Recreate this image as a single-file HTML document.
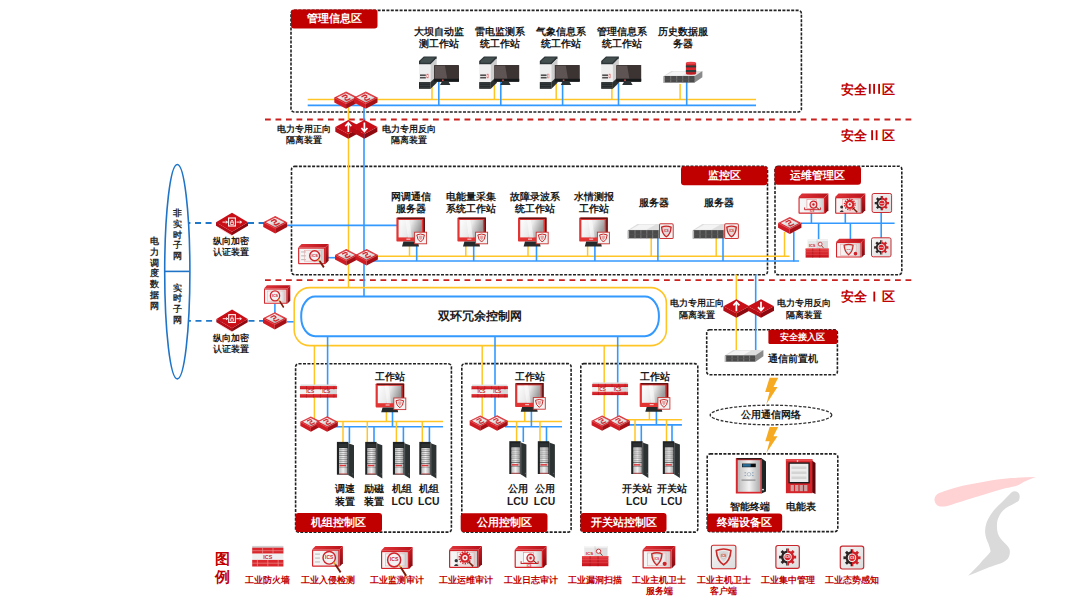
<!DOCTYPE html><html><head><meta charset="utf-8"><style>
html,body{margin:0;padding:0;background:#fff;width:1067px;height:608px;overflow:hidden}
svg{display:block;font-family:"Liberation Sans", sans-serif}
</style></head><body>
<svg width="1067" height="608" viewBox="0 0 1067 608">
<defs>
<linearGradient id="gScreen" x1="0" y1="0" x2="1" y2="0.3">
 <stop offset="0" stop-color="#ffffff"/><stop offset="0.55" stop-color="#e9e9e9"/><stop offset="1" stop-color="#9a9a9a"/>
</linearGradient>
<linearGradient id="gRedV" x1="0" y1="0" x2="0" y2="1">
 <stop offset="0" stop-color="#e8333a"/><stop offset="1" stop-color="#b01018"/>
</linearGradient>
<linearGradient id="gRedH" x1="0" y1="0" x2="1" y2="0">
 <stop offset="0" stop-color="#e02a30"/><stop offset="1" stop-color="#a80e16"/>
</linearGradient>
<linearGradient id="gGreyFace" x1="0" y1="0" x2="1" y2="1">
 <stop offset="0" stop-color="#fafafa"/><stop offset="1" stop-color="#cfcfcf"/>
</linearGradient>
<linearGradient id="gMetal" x1="0" y1="0" x2="1" y2="0">
 <stop offset="0" stop-color="#bdbdbd"/><stop offset="0.5" stop-color="#f2f2f2"/><stop offset="1" stop-color="#a9a9a9"/>
</linearGradient>

<!-- switch: 24 x 17.5 -->
<linearGradient id="gSwTop" x1="0" y1="0" x2="0.3" y2="1">
 <stop offset="0" stop-color="#f4f4f4"/><stop offset="0.6" stop-color="#e4e4e4"/><stop offset="1" stop-color="#b9b9b9"/>
</linearGradient>
<symbol id="sw" viewBox="0 0 24 17.5" overflow="visible">
 <path d="M0,6.2 L12,12.4 L12,17.5 L0,11.1 Z" fill="#cf1b23"/>
 <path d="M12,12.4 L24,6.2 L24,11.1 L12,17.5 Z" fill="#a50f16"/>
 <path d="M0,6.4 L12,12.6 L24,6.4" stroke="#e8585c" stroke-width="0.5" fill="none"/>
 <path d="M12,0 L24,6.2 L12,12.4 L0,6.2 Z" fill="#d8222a"/>
 <path d="M11.8,1.7 L21.2,6.4 L12,11.3 L2.7,6.2 Z" fill="url(#gSwTop)"/>
 <path d="M2.5,5.6 L11.8,0.9 L21.5,5.8" stroke="#f3b0b0" stroke-width="0.5" stroke-dasharray="0.8 0.6" fill="none"/>
 <path d="M7.6,5.4 L11.2,3.6 L13.4,4.6 M16.4,7.2 L12.8,9 L10.6,8 M10.4,7 L13.6,5.2" stroke="#d3262c" stroke-width="1.3" fill="none"/>
</symbol>

<!-- isolation devices 26 x 18.7 -->
<symbol id="isoUp" viewBox="0 0 26 18.7" overflow="visible">
 <path d="M0,7 L13,14 L13,18.7 L0,11.7 Z" fill="#b50d15"/>
 <path d="M13,14 L26,7 L26,11.7 L13,18.7 Z" fill="#8f0a10"/>
 <path d="M13,0 L26,7 L13,14 L0,7 Z" fill="#c80f17"/>
 <path d="M13,12 L13,3.2 M10,6.2 L13,2.8 L16,6.2" stroke="#fff" stroke-width="1.7" fill="none"/>
</symbol>
<symbol id="isoDn" viewBox="0 0 26 18.7" overflow="visible">
 <path d="M0,7 L13,14 L13,18.7 L0,11.7 Z" fill="#b50d15"/>
 <path d="M13,14 L26,7 L26,11.7 L13,18.7 Z" fill="#8f0a10"/>
 <path d="M13,0 L26,7 L13,14 L0,7 Z" fill="#c80f17"/>
 <path d="M13,2.5 L13,11 M10,8 L13,11.4 L16,8" stroke="#fff" stroke-width="1.7" fill="none"/>
</symbol>

<!-- encryption 32 x 22.5 -->
<symbol id="enc" viewBox="0 0 32 22.5" overflow="visible">
 <path d="M0,9.5 L16,19 L16,22.5 L0,13 Z" fill="#b50d15"/>
 <path d="M16,19 L32,9.5 L32,13 L16,22.5 Z" fill="#8f0a10"/>
 <path d="M16,0 L32,9.5 L16,19 L0,9.5 Z" fill="#c90e16"/>
 <path d="M3,15.3 L16,23 M16,22.8" stroke="#f3a0a0" stroke-width="0.4" fill="none"/>
 <rect x="12.6" y="5.2" width="6.8" height="8" fill="none" stroke="#fff" stroke-width="1.1"/>
 <path d="M15,9.5 L15,8 Q16,6.6 17,8 L17,9.5 M14.6,9.4 h2.8 v2.4 h-2.8z" stroke="#fff" stroke-width="0.8" fill="none"/>
 <path d="M6.5,9.3 L11.5,9.3 M9.8,8 L11.5,9.3 L9.8,10.6 M20.5,9.3 L25.5,9.3 M23.8,8 L25.5,9.3 L23.8,10.6" stroke="#fff" stroke-width="0.9" fill="none"/>
</symbol>

<!-- grey workstation 40 x 33 -->
<symbol id="pc" viewBox="0 0 40 33" overflow="visible">
 <path d="M0,4.6 L4.8,0.2 L17.7,0.2 L17.7,2 L11.6,8.2 L0,8.2 Z" fill="#2e3538"/>
 <path d="M1.5,4.6 L5.5,1.2 L16,1.2 L11,6.5 L1.5,6.5Z" fill="#44504f"/>
 <rect x="0" y="8.2" width="11.6" height="17.6" fill="#efefef"/>
 <path d="M11.6,8.2 L17.7,2 L17.7,26.5 L11.6,32.5 Z" fill="#cdcdcd"/>
 <path d="M11.6,25.8 L17.7,20 L17.7,26.5 L11.6,32.5 Z" fill="#2a2f30"/>
 <rect x="0" y="25.8" width="11.6" height="6.7" fill="#1f2425"/>
 <path d="M0.6,27.5 h10.4 M0.6,29.3 h10.4 M0.6,31 h10.4" stroke="#4b5354" stroke-width="0.6"/>
 <rect x="1" y="18.1" width="5.8" height="1.6" fill="#505050"/>
 <rect x="1" y="20.6" width="5.8" height="1.6" fill="#505050"/>
 <rect x="7.8" y="17.8" width="1.4" height="3.8" fill="none" stroke="#d66" stroke-width="0.5"/>
 <rect x="15" y="8.6" width="25" height="16.8" rx="0.6" fill="#3b3433"/>
 <path d="M15.8,9.4 L26,9.4 L28.2,22.5 L15.8,22.5 Z" fill="#5d5453"/>
 <rect x="15" y="22.5" width="25" height="2.9" fill="#15191a"/>
 <rect x="23" y="23.2" width="1.6" height="1.4" fill="#e05050"/>
 <path d="M22.8,25.4 L29.6,25.4 L31.4,28.6 L21,28.6 Z" fill="#2b3132"/>
</symbol>

<!-- red monitor with shield badge 30.5 x 29 -->
<symbol id="rmon" viewBox="0 0 30.5 29" overflow="visible">
 <rect x="0" y="0" width="28.6" height="24" rx="0.8" fill="#e33434"/>
 <path d="M1.2,0 L28.6,0 L28.6,24 L27,24 L27,1.5 L1.2,1.5Z" fill="#4a1212" opacity="0.85"/>
 <rect x="2.2" y="2.4" width="23.3" height="17.4" fill="url(#gScreen)"/>
 <path d="M9,2.4 L13,2.4 L15.5,19.8 L11.5,19.8Z" fill="#fff" opacity="0.5"/>
 <rect x="10" y="21" width="4" height="1.2" fill="#f4c0c0"/>
 <path d="M7,24 L21.5,24 L22.6,28.8 L5.6,28.8 Z" fill="#262a2b"/>
 <rect x="18.2" y="14.6" width="12" height="11.6" fill="#f3f3f3" stroke="#c93333" stroke-width="0.9"/>
 <path d="M20.4,17.3 Q24.2,15.6 28,17.3 Q27.6,22.4 24.2,24.4 Q20.8,22.4 20.4,17.3Z" fill="none" stroke="#c82a2a" stroke-width="1"/>
 <path d="M22.2,18.3 Q24.2,17.4 26.2,18.3 Q25.9,21.4 24.2,22.6 Q22.5,21.4 22.2,18.3Z" fill="#e6a5a5"/>
</symbol>

<!-- rack server with badge 47 x 16 -->
<symbol id="srv" viewBox="0 0 47 16" overflow="visible">
 <path d="M3,0.8 L33,0.8 L32.5,4.2 L0,4.2 Z" fill="#d9d9d9"/>
 <path d="M0,4.2 L32.5,4.2 L32.5,14.5 L0,14.5 Z" fill="#3c3c3c"/>
 <rect x="0" y="4.2" width="32.5" height="1.2" fill="#9c9c9c"/>
 <path d="M1,7.3 h31 M1,9.8 h31 M1,12.3 h31" stroke="#777" stroke-width="0.6"/>
 <path d="M6,5.5 v8.5 M12,5.5 v8.5 M18,5.5 v8.5 M24,5.5 v8.5" stroke="#222" stroke-width="0.5"/>
 <rect x="32.5" y="-0.6" width="14.2" height="15.6" rx="1" fill="#f3f3f3" stroke="#c83030" stroke-width="1"/>
 <path d="M35,2.8 Q39.6,0.8 44.2,2.8 Q43.8,9.5 39.6,12.2 Q35.4,9.5 35,2.8Z" fill="none" stroke="#c82a2a" stroke-width="1.1"/>
 <path d="M37,4 Q39.6,3 42.2,4 Q41.8,8 39.6,9.6 Q37.4,8 37,4Z" fill="#e7a7a7"/>
</symbol>

<!-- ICS firewall 37 x 13.2 -->
<linearGradient id="gBrick" x1="0" y1="0" x2="0" y2="1"><stop offset="0" stop-color="#e23a3e"/><stop offset="1" stop-color="#c8141c"/></linearGradient>
<symbol id="fw" viewBox="0 0 37 13.2" overflow="visible">
 <rect x="0.5" y="0" width="36" height="1.6" fill="#dcdcdc"/>
 <rect x="0" y="1.5" width="37" height="3.5" fill="url(#gBrick)"/>
 <rect x="0" y="5" width="37" height="4.5" fill="#f2f2f2"/>
 <rect x="28" y="5" width="9" height="4.5" fill="#d6d6d6"/>
 <rect x="0" y="9.6" width="37" height="3.5" fill="url(#gBrick)"/>
 <path d="M6.5,1.5 v3.5 M13.5,1.5 v3.5 M20.5,1.5 v3.5 M27.5,1.5 v3.5 M34,1.5 v3.5 M6.5,9.6 v3.5 M13.5,9.6 v3.5 M20.5,9.6 v3.5 M27.5,9.6 v3.5 M34,9.6 v3.5" stroke="#a80e14" stroke-width="0.5"/>
 <text x="10.2" y="8.9" font-size="4.8" font-weight="700" fill="#c42226" text-anchor="middle">ICS</text>
 <text x="26.2" y="8.9" font-size="4.8" font-weight="700" fill="#c42226" text-anchor="middle">ICS</text>
</symbol>

<!-- cabinet rack 18 x 36.6 -->
<linearGradient id="gShelf" x1="0" y1="0" x2="1" y2="0"><stop offset="0" stop-color="#bdbdbd"/><stop offset="0.5" stop-color="#f0f0f0"/><stop offset="1" stop-color="#a8a8a8"/></linearGradient>
<symbol id="rack" viewBox="0 0 18 36.6" overflow="visible">
 <rect x="0.6" y="0" width="11.4" height="32.8" fill="#202324"/>
 <path d="M12,1.3 L17.7,3.4 L17.7,36.7 L12,33 Z" fill="#2c3132"/>
 <path d="M12,1.3 L12.9,1.6 L12.9,33.4 L12,33Z" fill="#4d5354"/>
 <rect x="2.6" y="2" width="8.6" height="3.6" fill="#2e3233"/>
 <rect x="2.7" y="6.2" width="8.4" height="26.1" fill="#4a4a4a"/>
 <rect x="2.7" y="6.2" width="8.4" height="3.3" fill="url(#gShelf)"/>
 <rect x="2.7" y="9.9" width="8.4" height="3.6" fill="url(#gShelf)"/>
 <rect x="2.7" y="13.9" width="8.4" height="3.6" fill="url(#gShelf)"/>
 <rect x="2.7" y="17.8" width="8.4" height="3.3" fill="url(#gShelf)"/>
 <rect x="2.7" y="21.8" width="8.4" height="3.3" fill="url(#gShelf)"/>
 <rect x="3.2" y="22.9" width="6.5" height="1.5" fill="#d8383c"/>
 <rect x="2.7" y="25.4" width="8.4" height="6.9" fill="url(#gShelf)"/>
 <path d="M3,7.8 h8 M3,11.7 h8 M3,15.7 h8 M3,19.5 h8" stroke="#6a6a6a" stroke-width="0.5"/>
 <rect x="2.7" y="31.6" width="8.4" height="0.8" fill="#b83838"/>
 <circle cx="16.6" cy="32" r="0.45" fill="#aaa"/>
</symbol>

<!-- lightning -->
<symbol id="bolt" viewBox="0 0 13 26.2" overflow="visible">
 <path d="M4.4,0 L13,0 L8.3,9.3 L12.4,9.3 L1.2,26.2 L4.4,14.4 L0,14.4 Z" fill="#f5aa22"/>
</symbol>

<!-- 3D red audit box base: 32 x 21 -->
<linearGradient id="gSide" x1="0" y1="0" x2="0" y2="1">
 <stop offset="0" stop-color="#cf1a22"/><stop offset="1" stop-color="#7e0b10"/>
</linearGradient>
<linearGradient id="gTop" x1="0" y1="0" x2="1" y2="0">
 <stop offset="0" stop-color="#e0343a"/><stop offset="1" stop-color="#b8121a"/>
</linearGradient>
<linearGradient id="gFace" x1="0" y1="0" x2="1" y2="0">
 <stop offset="0" stop-color="#f7f7f7"/><stop offset="0.75" stop-color="#ececec"/><stop offset="1" stop-color="#c9c9c9"/>
</linearGradient>
<symbol id="abox" viewBox="0 0 32 21" overflow="visible">
 <path d="M0,3.6 L3.6,0 L32,0 L28.4,3.6 Z" fill="url(#gTop)"/>
 <path d="M28.4,3.6 L32,0 L32,17.4 L28.4,21 Z" fill="url(#gSide)"/>
 <rect x="0" y="3.6" width="28.4" height="17.4" rx="1" fill="#d42329"/>
 <rect x="1.2" y="4.9" width="26" height="14.9" fill="url(#gFace)"/>
</symbol>

<!-- gear icon 21 x 20.5 -->
<clipPath id="cL"><rect x="-9" y="-9" width="9" height="18"/></clipPath>
<clipPath id="cR"><rect x="0" y="-9" width="9" height="18"/></clipPath>
<linearGradient id="gGearBg" x1="0" y1="0" x2="1" y2="1"><stop offset="0" stop-color="#f6f6f6"/><stop offset="1" stop-color="#dcdcdc"/></linearGradient>
<symbol id="gear" viewBox="0 0 21 20.5" overflow="visible">
 <rect x="0.5" y="0.5" width="20" height="19.5" rx="1.8" fill="url(#gGearBg)" stroke="#c8262c" stroke-width="1"/>
 <g transform="translate(10.5,10.4)">
  <path d="M-1.15,-5.48 L-1.21,-7.30 L1.21,-7.30 L1.15,-5.48 L3.07,-4.69 L4.30,-6.02 L6.02,-4.30 L4.69,-3.07 L5.48,-1.15 L7.30,-1.21 L7.30,1.21 L5.48,1.15 L4.69,3.07 L6.02,4.30 L4.30,6.02 L3.07,4.69 L1.15,5.48 L1.21,7.30 L-1.21,7.30 L-1.15,5.48 L-3.07,4.69 L-4.30,6.02 L-6.02,4.30 L-4.69,3.07 L-5.48,1.15 L-7.30,1.21 L-7.30,-1.21 L-5.48,-1.15 L-4.69,-3.07 L-6.02,-4.30 L-4.30,-6.02 L-3.07,-4.69Z" fill="#2e2424" clip-path="url(#cL)"/>
  <path d="M-1.15,-5.48 L-1.21,-7.30 L1.21,-7.30 L1.15,-5.48 L3.07,-4.69 L4.30,-6.02 L6.02,-4.30 L4.69,-3.07 L5.48,-1.15 L7.30,-1.21 L7.30,1.21 L5.48,1.15 L4.69,3.07 L6.02,4.30 L4.30,6.02 L3.07,4.69 L1.15,5.48 L1.21,7.30 L-1.21,7.30 L-1.15,5.48 L-3.07,4.69 L-4.30,6.02 L-6.02,4.30 L-4.69,3.07 L-5.48,1.15 L-7.30,1.21 L-7.30,-1.21 L-5.48,-1.15 L-4.69,-3.07 L-6.02,-4.30 L-4.30,-6.02 L-3.07,-4.69Z" fill="#cf1f27" clip-path="url(#cR)"/>
  <circle r="3.6" fill="#f4f4f4"/>
  <circle r="2.7" fill="#d8262c"/>
  <text y="1" font-size="2.4" font-weight="700" fill="#fff" text-anchor="middle">ICS</text>
 </g>
</symbol>
</defs>

<path d="M934.5,499 C935.5,495 938,493.5 940.9,492.6 C946,490.5 951,488.6 957.1,487.2 C966,485 975,483.3 984.3,481.8 C993,480.2 1002,479 1011.4,478.1 C1020,477.4 1028,477.1 1036,477 C1031,478.8 1027,480.5 1024,481.8 C1021,484 1018,485.5 1015,486.3 C1010,487.5 1006,488 1002.4,489 C996,490.7 990,492.7 984.3,494.4 C978,496.4 972,498.2 966.2,499.9 C959,502 952,504.5 946.3,506.2 C942,507 938.5,506.5 937.2,505.3 C935.2,503.5 934.3,501 934.5,499 Z" fill="#ffd2d4"/>
<path d="M1011.4,492.6 C1013.5,490.6 1016.5,490.8 1018.5,493 C1020.2,495 1020,498.5 1018.7,500.8 C1015,503.5 1010,505.5 1006,508 C1002,511 1000,514 998.8,517 C997.5,519.5 997,522 997,524.3 C996.8,527.5 997,530.5 997.8,533.3 C999,537 1001.5,540 1004.2,542.4 C1006.5,545 1009,547 1009.6,549.6 C1010.3,552.5 1009.6,556 1007.8,558.7 C1005.5,561.5 1002,563 998.8,564.1 C994.5,565.6 990,567 986.1,568.6 C979.5,571.2 973,574 968,575.8 C973,570.5 979,565.5 982.5,560.5 C985.5,557.5 988.5,554.5 990.6,551.4 C990,548 989,545 987.9,542.4 C986.5,539.5 985.5,536.5 985.2,533.3 C984.9,530 985.3,527 986.1,524.3 C987,520.5 989,517 991.5,513.4 C994.5,509 998.5,505 1002.4,501.7 C1005.5,498.8 1008.5,495.5 1011.4,492.6 Z" fill="#dadada"/>
<line x1="265" y1="119.5" x2="912" y2="119.5" stroke="#c9211e" stroke-width="1.8" stroke-dasharray="5.8 4.7"/>
<line x1="265" y1="280.1" x2="912" y2="280.1" stroke="#c9211e" stroke-width="1.8" stroke-dasharray="5.8 4.7"/>
<text x="841.2" y="93.5" font-size="12.7" fill="#c00000" font-weight="700">安全</text>
<text x="881.9" y="93.5" font-size="12.7" fill="#c00000" font-weight="700">区</text>
<rect x="868.9" y="83.9" width="1.8" height="9.9" fill="#c00000"/>
<rect x="873.2" y="83.9" width="1.8" height="9.9" fill="#c00000"/>
<rect x="878.2" y="83.9" width="1.8" height="9.9" fill="#c00000"/>
<text x="841.2" y="139.79999999999998" font-size="12.7" fill="#c00000" font-weight="700">安全</text>
<text x="881.9" y="139.79999999999998" font-size="12.7" fill="#c00000" font-weight="700">区</text>
<rect x="871.2" y="130.2" width="1.8" height="9.9" fill="#c00000"/>
<rect x="875.7" y="130.2" width="1.8" height="9.9" fill="#c00000"/>
<text x="841.2" y="301.20000000000005" font-size="12.7" fill="#c00000" font-weight="700">安全</text>
<text x="881.9" y="301.20000000000005" font-size="12.7" fill="#c00000" font-weight="700">区</text>
<rect x="873.4" y="291.6" width="1.8" height="9.9" fill="#c00000"/>
<rect x="291" y="10.4" width="510.4" height="101.6" rx="3" fill="none" stroke="#222" stroke-width="1.6" stroke-dasharray="3 1.4"/>
<rect x="291.5" y="166.4" width="476.0" height="108.29999999999998" rx="3" fill="none" stroke="#222" stroke-width="1.6" stroke-dasharray="3 1.4"/>
<rect x="775" y="166.2" width="126.79999999999995" height="108.5" rx="3" fill="none" stroke="#222" stroke-width="1.6" stroke-dasharray="3 1.4"/>
<rect x="295.6" y="363.8" width="155.79999999999995" height="168.3" rx="3" fill="none" stroke="#222" stroke-width="1.6" stroke-dasharray="3 1.4"/>
<rect x="461.8" y="363.6" width="109.30000000000001" height="168.5" rx="3" fill="none" stroke="#222" stroke-width="1.6" stroke-dasharray="3 1.4"/>
<rect x="580.8" y="363.6" width="117.0" height="168.5" rx="3" fill="none" stroke="#222" stroke-width="1.6" stroke-dasharray="3 1.4"/>
<rect x="706.7" y="329.7" width="130.69999999999993" height="45.0" rx="3" fill="none" stroke="#222" stroke-width="1.6" stroke-dasharray="3 1.4"/>
<rect x="707.2" y="453.9" width="130.5999999999999" height="77.70000000000005" rx="3" fill="none" stroke="#222" stroke-width="1.6" stroke-dasharray="3 1.4"/>
<rect x="291" y="9.5" width="86.5" height="19.1" rx="3" fill="#c00000"/>
<text x="334.25" y="22.35" font-size="10.55" fill="#fff" font-weight="700" text-anchor="middle">管理信息区</text>
<rect x="681" y="166.3" width="86.29999999999995" height="19.0" rx="3" fill="#c00000"/>
<text x="724.15" y="179.10" font-size="10.55" fill="#fff" font-weight="700" text-anchor="middle">监控区</text>
<rect x="774.6" y="166.2" width="86.39999999999998" height="18.5" rx="3" fill="#c00000"/>
<text x="817.8" y="178.75" font-size="10.55" fill="#fff" font-weight="700" text-anchor="middle">运维管理区</text>
<rect x="295.5" y="513" width="86.5" height="19" rx="3" fill="#c00000"/>
<text x="338.75" y="525.80" font-size="10.55" fill="#fff" font-weight="700" text-anchor="middle">机组控制区</text>
<rect x="460.7" y="513.2" width="86.80000000000001" height="18.799999999999955" rx="3" fill="#c00000"/>
<text x="504.1" y="525.90" font-size="10.55" fill="#fff" font-weight="700" text-anchor="middle">公用控制区</text>
<rect x="580.5" y="513" width="86.0" height="19" rx="3" fill="#c00000"/>
<text x="623.5" y="525.80" font-size="10.55" fill="#fff" font-weight="700" text-anchor="middle">开关站控制区</text>
<rect x="768.4" y="329.7" width="68.80000000000007" height="14.300000000000011" rx="1.5" fill="#c00000"/>
<text x="802.8" y="339.52" font-size="8.8" fill="#fff" font-weight="700" text-anchor="middle">安全接入区</text>
<rect x="707.1" y="513.4" width="75.10000000000002" height="18.300000000000068" rx="3" fill="#c00000"/>
<text x="744.6500000000001" y="525.85" font-size="10.55" fill="#fff" font-weight="700" text-anchor="middle">终端设备区</text>
<line x1="307.7" y1="99.4" x2="756" y2="99.4" stroke="#ffc526" stroke-width="1.5"/>
<line x1="307.7" y1="105.4" x2="756" y2="105.4" stroke="#3399ff" stroke-width="1.6"/>
<line x1="432" y1="84" x2="432" y2="99.4" stroke="#ffc526" stroke-width="1.5"/>
<line x1="494.4" y1="84" x2="494.4" y2="99.4" stroke="#ffc526" stroke-width="1.5"/>
<line x1="556.2" y1="84" x2="556.2" y2="99.4" stroke="#ffc526" stroke-width="1.5"/>
<line x1="611.9" y1="84" x2="611.9" y2="99.4" stroke="#ffc526" stroke-width="1.5"/>
<line x1="680.1" y1="84" x2="680.1" y2="99.4" stroke="#ffc526" stroke-width="1.5"/>
<line x1="438.8" y1="80" x2="438.8" y2="105.4" stroke="#3399ff" stroke-width="1.6"/>
<line x1="500.8" y1="80" x2="500.8" y2="105.4" stroke="#3399ff" stroke-width="1.6"/>
<line x1="562.6" y1="80" x2="562.6" y2="105.4" stroke="#3399ff" stroke-width="1.6"/>
<line x1="618.5" y1="80" x2="618.5" y2="105.4" stroke="#3399ff" stroke-width="1.6"/>
<line x1="686.7" y1="80" x2="686.7" y2="105.4" stroke="#3399ff" stroke-width="1.6"/>
<line x1="348.5" y1="99.4" x2="348.5" y2="287.5" stroke="#ffc526" stroke-width="1.5"/>
<line x1="364" y1="105.4" x2="364" y2="296.5" stroke="#3399ff" stroke-width="1.6"/>
<line x1="357" y1="256.2" x2="789.5" y2="256.2" stroke="#ffc526" stroke-width="1.5"/>
<line x1="370" y1="261" x2="799" y2="261" stroke="#3399ff" stroke-width="1.6"/>
<line x1="287" y1="225.4" x2="397" y2="225.4" stroke="#3399ff" stroke-width="1.6"/>
<line x1="328" y1="257.7" x2="336" y2="257.7" stroke="#3399ff" stroke-width="1.6"/>
<line x1="409.5" y1="244" x2="409.5" y2="256.2" stroke="#ffc526" stroke-width="1.5"/>
<line x1="465.8" y1="244" x2="465.8" y2="256.2" stroke="#ffc526" stroke-width="1.5"/>
<line x1="528" y1="244" x2="528" y2="256.2" stroke="#ffc526" stroke-width="1.5"/>
<line x1="587.6" y1="244" x2="587.6" y2="256.2" stroke="#ffc526" stroke-width="1.5"/>
<line x1="651.2" y1="238" x2="651.2" y2="256.2" stroke="#ffc526" stroke-width="1.5"/>
<line x1="716.2" y1="238" x2="716.2" y2="256.2" stroke="#ffc526" stroke-width="1.5"/>
<line x1="416.7" y1="242" x2="416.7" y2="261" stroke="#3399ff" stroke-width="1.6"/>
<line x1="473.7" y1="242" x2="473.7" y2="261" stroke="#3399ff" stroke-width="1.6"/>
<line x1="536.5" y1="242" x2="536.5" y2="261" stroke="#3399ff" stroke-width="1.6"/>
<line x1="594.9" y1="242" x2="594.9" y2="261" stroke="#3399ff" stroke-width="1.6"/>
<line x1="657.9" y1="238" x2="657.9" y2="261" stroke="#3399ff" stroke-width="1.6"/>
<line x1="723" y1="238" x2="723" y2="261" stroke="#3399ff" stroke-width="1.6"/>
<line x1="784.5" y1="232" x2="784.5" y2="256.2" stroke="#ffc526" stroke-width="1.5"/>
<line x1="793.8" y1="232" x2="793.8" y2="261.4" stroke="#3399ff" stroke-width="1.6"/>
<line x1="801" y1="223.3" x2="894.6" y2="223.3" stroke="#3399ff" stroke-width="1.6"/>
<line x1="811.4" y1="212" x2="811.4" y2="223.3" stroke="#3399ff" stroke-width="1.6"/>
<line x1="845.3" y1="212" x2="845.3" y2="223.3" stroke="#3399ff" stroke-width="1.6"/>
<line x1="881.2" y1="212" x2="881.2" y2="238" stroke="#3399ff" stroke-width="1.6"/>
<line x1="818.6" y1="223.3" x2="818.6" y2="240" stroke="#3399ff" stroke-width="1.6"/>
<line x1="850.4" y1="223.3" x2="850.4" y2="240" stroke="#3399ff" stroke-width="1.6"/>
<line x1="736.3" y1="274.5" x2="736.3" y2="351" stroke="#ffc526" stroke-width="1.5"/>
<line x1="755.7" y1="274.5" x2="755.7" y2="351" stroke="#3399ff" stroke-width="1.6"/>
<line x1="188.5" y1="223" x2="264" y2="223" stroke="#1f78c8" stroke-width="1.9" stroke-dasharray="6 4.6" stroke-dashoffset="4.1"/>
<line x1="189" y1="320.9" x2="264" y2="320.9" stroke="#1f78c8" stroke-width="1.9" stroke-dasharray="6 4.6" stroke-dashoffset="4.1"/>
<line x1="287" y1="321.8" x2="295" y2="321.8" stroke="#3399ff" stroke-width="1.6"/>
<line x1="274.9" y1="304" x2="274.9" y2="314" stroke="#3399ff" stroke-width="1.6"/>
<rect x="294.2" y="287.6" width="372.2" height="58" rx="15.5" ry="15.5" fill="none" stroke="#ffc526" stroke-width="1.6"/>
<rect x="301.2" y="296.6" width="357.7" height="39.6" rx="14" ry="19" fill="none" stroke="#3399ff" stroke-width="2"/>
<text x="480.3" y="319.50" font-size="12.4" fill="#1a1a1a" font-weight="700" text-anchor="middle">双环冗余控制网</text>
<line x1="314.4" y1="345.6" x2="314.4" y2="420" stroke="#ffc526" stroke-width="1.5"/>
<line x1="327.6" y1="336.2" x2="327.6" y2="425" stroke="#3399ff" stroke-width="1.6"/>
<line x1="482.2" y1="345.6" x2="482.2" y2="420" stroke="#ffc526" stroke-width="1.5"/>
<line x1="495" y1="336.2" x2="495" y2="425" stroke="#3399ff" stroke-width="1.6"/>
<line x1="604.2" y1="345.6" x2="604.2" y2="420" stroke="#ffc526" stroke-width="1.5"/>
<line x1="617.7" y1="336.2" x2="617.7" y2="425" stroke="#3399ff" stroke-width="1.6"/>
<line x1="330" y1="421.4" x2="443" y2="421.4" stroke="#ffc526" stroke-width="1.5"/>
<line x1="335" y1="426.7" x2="443" y2="426.7" stroke="#3399ff" stroke-width="1.6"/>
<line x1="386.4" y1="410" x2="386.4" y2="421.4" stroke="#ffc526" stroke-width="1.5"/>
<line x1="392.5" y1="410" x2="392.5" y2="426.7" stroke="#3399ff" stroke-width="1.6"/>
<line x1="343" y1="421.4" x2="343" y2="443" stroke="#ffc526" stroke-width="1.5"/>
<line x1="367.3" y1="421.4" x2="367.3" y2="443" stroke="#ffc526" stroke-width="1.5"/>
<line x1="396.4" y1="421.4" x2="396.4" y2="443" stroke="#ffc526" stroke-width="1.5"/>
<line x1="422.3" y1="421.4" x2="422.3" y2="443" stroke="#ffc526" stroke-width="1.5"/>
<line x1="349.4" y1="426.7" x2="349.4" y2="443" stroke="#3399ff" stroke-width="1.6"/>
<line x1="374" y1="426.7" x2="374" y2="443" stroke="#3399ff" stroke-width="1.6"/>
<line x1="403.4" y1="426.7" x2="403.4" y2="443" stroke="#3399ff" stroke-width="1.6"/>
<line x1="429.4" y1="426.7" x2="429.4" y2="443" stroke="#3399ff" stroke-width="1.6"/>
<line x1="500" y1="421.6" x2="562" y2="421.6" stroke="#ffc526" stroke-width="1.5"/>
<line x1="505" y1="426.8" x2="562" y2="426.8" stroke="#3399ff" stroke-width="1.6"/>
<line x1="524.7" y1="410" x2="524.7" y2="421.6" stroke="#ffc526" stroke-width="1.5"/>
<line x1="531.4" y1="410" x2="531.4" y2="426.8" stroke="#3399ff" stroke-width="1.6"/>
<line x1="516.6" y1="421.6" x2="516.6" y2="442" stroke="#ffc526" stroke-width="1.5"/>
<line x1="540" y1="421.6" x2="540" y2="442" stroke="#ffc526" stroke-width="1.5"/>
<line x1="523.3" y1="426.8" x2="523.3" y2="442" stroke="#3399ff" stroke-width="1.6"/>
<line x1="546.5" y1="426.8" x2="546.5" y2="442" stroke="#3399ff" stroke-width="1.6"/>
<line x1="622" y1="419.7" x2="681.9" y2="419.7" stroke="#ffc526" stroke-width="1.5"/>
<line x1="627" y1="424.9" x2="681.9" y2="424.9" stroke="#3399ff" stroke-width="1.6"/>
<line x1="649.4" y1="410" x2="649.4" y2="419.7" stroke="#ffc526" stroke-width="1.5"/>
<line x1="656.4" y1="410" x2="656.4" y2="424.9" stroke="#3399ff" stroke-width="1.6"/>
<line x1="635" y1="419.7" x2="635" y2="442" stroke="#ffc526" stroke-width="1.5"/>
<line x1="666.5" y1="419.7" x2="666.5" y2="442" stroke="#ffc526" stroke-width="1.5"/>
<line x1="641.3" y1="424.9" x2="641.3" y2="442" stroke="#3399ff" stroke-width="1.6"/>
<line x1="672" y1="424.9" x2="672" y2="442" stroke="#3399ff" stroke-width="1.6"/>
<ellipse cx="177.3" cy="271.7" rx="12.6" ry="107.2" fill="none" stroke="#1f74c8" stroke-width="1.6"/>
<line x1="164.8" y1="271.4" x2="189.8" y2="271.4" stroke="#1f74c8" stroke-width="1.6"/>
<use href="#sw" x="334.3" y="91.5" width="23.5" height="17.2"/>
<use href="#sw" x="354" y="91.5" width="23.5" height="17.2"/>
<use href="#sw" x="335" y="248.8" width="22.5" height="17"/>
<use href="#sw" x="355.3" y="248.8" width="22.6" height="17"/>
<use href="#sw" x="263" y="216" width="24.4" height="17.4"/>
<use href="#sw" x="262.6" y="312.2" width="24.4" height="17.2"/>
<use href="#sw" x="777.5" y="217" width="24.5" height="17"/>
<use href="#sw" x="300.4" y="415.5" width="21" height="17.1"/>
<use href="#sw" x="316.5" y="415.5" width="21.3" height="17.1"/>
<use href="#sw" x="469.7" y="414.5" width="21" height="17.2"/>
<use href="#sw" x="486.5" y="414.5" width="21.2" height="17.2"/>
<use href="#sw" x="591.6" y="414.5" width="21" height="17.2"/>
<use href="#sw" x="608.6" y="414.5" width="21.2" height="17.2"/>
<use href="#isoUp" x="335.3" y="120" width="26" height="18.7"/>
<use href="#isoDn" x="351.4" y="120" width="26" height="18.7"/>
<use href="#isoUp" x="723.4" y="299" width="26" height="19"/>
<use href="#isoDn" x="748" y="299" width="26" height="19"/>
<use href="#enc" x="216" y="212.8" width="32" height="22.5"/>
<use href="#enc" x="216.3" y="309.6" width="31.5" height="22"/>
<use href="#pc" x="419" y="56.3" width="40" height="33"/>
<use href="#pc" x="479.2" y="56.3" width="40" height="33"/>
<use href="#pc" x="539.8" y="56.3" width="40" height="33"/>
<use href="#pc" x="601.2" y="56.3" width="40" height="33"/>
<use href="#rmon" x="396.4" y="217.6" width="30.5" height="29"/>
<use href="#rmon" x="457.4" y="217.6" width="30.5" height="29"/>
<use href="#rmon" x="518" y="217.6" width="30.5" height="29"/>
<use href="#rmon" x="579.2" y="217.6" width="30.5" height="29"/>
<use href="#rmon" x="375.6" y="383.4" width="30.5" height="29"/>
<use href="#rmon" x="515.1" y="383" width="30.5" height="29"/>
<use href="#rmon" x="639.7" y="383" width="30.5" height="29"/>
<path d="M637.4,224 L667.9,224 L658.6,230.1 L628.1,230.1Z" fill="#dedede"/>
<path d="M639.4,224.5 L655.6999999999999,224.5 L646.4,229.7 L630.1,229.7Z" fill="#f4f4f4"/>
<path d="M658.6,230.1 L667.9,224 L667.9,231.885 L658.6,238.4Z" fill="#8a8a8a"/>
<rect x="628.1" y="230.1" width="30.5" height="8.3" fill="#4a4a4a"/>
<rect x="627.5" y="230.4" width="1.6" height="8.3" fill="#b5b5b5"/>
<line x1="635.00" y1="230.1" x2="635.00" y2="238.4" stroke="#8c8c8c" stroke-width="0.7"/>
<line x1="640.90" y1="230.1" x2="640.90" y2="238.4" stroke="#8c8c8c" stroke-width="0.7"/>
<line x1="646.80" y1="230.1" x2="646.80" y2="238.4" stroke="#8c8c8c" stroke-width="0.7"/>
<line x1="652.70" y1="230.1" x2="652.70" y2="238.4" stroke="#8c8c8c" stroke-width="0.7"/>
<line x1="629.1" y1="234.25" x2="658.6" y2="234.25" stroke="#555" stroke-width="0.6"/>
<g transform="translate(659,223.2) scale(1.0068493150684932,1.0)"><rect x="0.5" y="0.5" width="13.6" height="14.9" rx="1.2" fill="#f2f2f2" stroke="#cc3535" stroke-width="1"/><path d="M2.6,4 Q7.3,1.8 12,4 Q11.6,10.8 7.3,13.6 Q3,10.8 2.6,4Z" fill="#f0d0d0" stroke="#c42424" stroke-width="1.3"/><path d="M4.6,5.2 Q7.3,4.2 10,5.2 Q9.7,9.6 7.3,11.2 Q4.9,9.6 4.6,5.2Z" fill="#dcdcdc"/><text x="7.3" y="8.9" font-size="2.8" font-weight="700" fill="#d02020" text-anchor="middle">ICS</text></g>
<path d="M702.4,224 L732.9,224 L723.6,230.1 L693.1,230.1Z" fill="#dedede"/>
<path d="M704.4,224.5 L720.6999999999999,224.5 L711.4,229.7 L695.1,229.7Z" fill="#f4f4f4"/>
<path d="M723.6,230.1 L732.9,224 L732.9,231.885 L723.6,238.4Z" fill="#8a8a8a"/>
<rect x="693.1" y="230.1" width="30.5" height="8.3" fill="#4a4a4a"/>
<rect x="692.5" y="230.4" width="1.6" height="8.3" fill="#b5b5b5"/>
<line x1="700.00" y1="230.1" x2="700.00" y2="238.4" stroke="#8c8c8c" stroke-width="0.7"/>
<line x1="705.90" y1="230.1" x2="705.90" y2="238.4" stroke="#8c8c8c" stroke-width="0.7"/>
<line x1="711.80" y1="230.1" x2="711.80" y2="238.4" stroke="#8c8c8c" stroke-width="0.7"/>
<line x1="717.70" y1="230.1" x2="717.70" y2="238.4" stroke="#8c8c8c" stroke-width="0.7"/>
<line x1="694.1" y1="234.25" x2="723.6" y2="234.25" stroke="#555" stroke-width="0.6"/>
<g transform="translate(724.2,223.2) scale(1.0068493150684932,1.0)"><rect x="0.5" y="0.5" width="13.6" height="14.9" rx="1.2" fill="#f2f2f2" stroke="#cc3535" stroke-width="1"/><path d="M2.6,4 Q7.3,1.8 12,4 Q11.6,10.8 7.3,13.6 Q3,10.8 2.6,4Z" fill="#f0d0d0" stroke="#c42424" stroke-width="1.3"/><path d="M4.6,5.2 Q7.3,4.2 10,5.2 Q9.7,9.6 7.3,11.2 Q4.9,9.6 4.6,5.2Z" fill="#dcdcdc"/><text x="7.3" y="8.9" font-size="2.8" font-weight="700" fill="#d02020" text-anchor="middle">ICS</text></g>
<use href="#fw" x="299.9" y="384.5" width="37.1" height="13.2"/>
<use href="#fw" x="471.2" y="384.6" width="37" height="13"/>
<use href="#fw" x="591.6" y="382.4" width="37" height="12.8"/>
<use href="#rack" x="336.3" y="441.9" width="18" height="36.6"/>
<use href="#rack" x="364.6" y="441.9" width="18" height="36.6"/>
<use href="#rack" x="392.3" y="441.9" width="18" height="36.6"/>
<use href="#rack" x="418.7" y="441.9" width="18" height="36.6"/>
<use href="#rack" x="508.7" y="441.2" width="18" height="36.6"/>
<use href="#rack" x="537.2" y="441.2" width="18" height="36.6"/>
<use href="#rack" x="630.6" y="441.2" width="18" height="36.6"/>
<use href="#rack" x="662.2" y="441.2" width="18" height="36.6"/>
<use href="#bolt" x="765.2" y="377.7" width="13" height="26.2"/>
<use href="#bolt" x="765.2" y="427" width="13" height="25.8"/>
<ellipse cx="771" cy="415" rx="60.8" ry="9.8" fill="none" stroke="#333" stroke-width="1.3" stroke-dasharray="3 1.6"/>
<path d="M671.35,71.1 L702.35,71.1 L694.75,76.0 L663.75,76.0Z" fill="#dedede"/>
<path d="M673.35,71.6 L689.95,71.6 L682.35,75.6 L665.75,75.6Z" fill="#f4f4f4"/>
<path d="M694.75,76.0 L702.35,71.1 L702.35,77.36999999999999 L694.75,82.6Z" fill="#8a8a8a"/>
<rect x="663.75" y="76.0" width="31" height="6.6" fill="#4a4a4a"/>
<rect x="663.15" y="76.3" width="1.6" height="6.6" fill="#b5b5b5"/>
<line x1="670.75" y1="76.0" x2="670.75" y2="82.6" stroke="#8c8c8c" stroke-width="0.7"/>
<line x1="676.75" y1="76.0" x2="676.75" y2="82.6" stroke="#8c8c8c" stroke-width="0.7"/>
<line x1="682.75" y1="76.0" x2="682.75" y2="82.6" stroke="#8c8c8c" stroke-width="0.7"/>
<line x1="688.75" y1="76.0" x2="688.75" y2="82.6" stroke="#8c8c8c" stroke-width="0.7"/>
<line x1="664.75" y1="79.30" x2="694.75" y2="79.30" stroke="#555" stroke-width="0.6"/>
<g>
<rect x="685.9" y="63" width="10.2" height="10.6" fill="#d8262c"/>
<ellipse cx="691" cy="73.6" rx="5.1" ry="1.2" fill="#c01c22"/>
<rect x="685.9" y="65.4" width="10.2" height="2" fill="#2f3a3a"/>
<rect x="685.9" y="70" width="10.2" height="2.2" fill="#2f3a3a"/>
<ellipse cx="691" cy="63" rx="5.1" ry="1.2" fill="#e8464c"/>
</g>
<path d="M733.1,350.1 L763.4,350.1 L755.5,355.3 L725.2,355.3Z" fill="#dedede"/>
<path d="M735.1,350.6 L751.28,350.6 L743.38,354.90000000000003 L727.2,354.90000000000003Z" fill="#f4f4f4"/>
<path d="M755.5,355.3 L763.4,350.1 L763.4,356.18 L755.5,361.7Z" fill="#8a8a8a"/>
<rect x="725.2" y="355.3" width="30.3" height="6.4" fill="#4a4a4a"/>
<rect x="724.6" y="355.6" width="1.6" height="6.4" fill="#b5b5b5"/>
<line x1="732.06" y1="355.3" x2="732.06" y2="361.7" stroke="#8c8c8c" stroke-width="0.7"/>
<line x1="737.92" y1="355.3" x2="737.92" y2="361.7" stroke="#8c8c8c" stroke-width="0.7"/>
<line x1="743.78" y1="355.3" x2="743.78" y2="361.7" stroke="#8c8c8c" stroke-width="0.7"/>
<line x1="749.64" y1="355.3" x2="749.64" y2="361.7" stroke="#8c8c8c" stroke-width="0.7"/>
<line x1="726.2" y1="358.50" x2="755.5" y2="358.50" stroke="#555" stroke-width="0.6"/>
<g>
<path d="M761.5,458.2 L766,461.4 L766,491.5 L761.5,493.6Z" fill="#1c2424"/>
<rect x="735.8" y="458.1" width="26" height="35.4" fill="#d8282e"/>
<rect x="736.6" y="458.1" width="25" height="1.3" fill="#1a1a1a"/>
<rect x="737.8" y="460.2" width="22.6" height="31.6" fill="url(#gMetal)"/>
<rect x="742" y="463.6" width="13.8" height="3.6" fill="#0c0c0c"/>
<rect x="742.5" y="464.1" width="8.2" height="2.6" fill="#2a6e98"/>
<circle cx="749" cy="474.3" r="1.8" fill="none" stroke="#8aa0b0" stroke-width="0.6"/>
<path d="M744.5,472.8 h1.6 M744.5,475.6 h1.6 M752,472.8 h1.6 M752,475.6 h1.6" stroke="#6a8aa8" stroke-width="0.7"/>
<rect x="741.5" y="479.5" width="14" height="1.2" fill="#8c8c8c"/>
<path d="M739,461.5 v29 " stroke="#b0b0b0" stroke-width="0.5"/>
<circle cx="763" cy="489.6" r="0.9" fill="#fff"/>
</g>
<g>
<path d="M812,460.5 L815.5,463 L815.5,494.1 L812,492.5Z" fill="#5a0a0e"/>
<rect x="785.9" y="459.2" width="26.5" height="34" fill="#d42429"/>
<rect x="785.9" y="459.2" width="26.5" height="2" fill="#e8484c"/>
<rect x="788.4" y="462.4" width="21.4" height="21" fill="#1e1e1e"/>
<rect x="789.8" y="463.8" width="18.6" height="18.2" fill="#ececec"/>
<path d="M791.5,467.8 h15 M791.5,472.8 h15 M791.5,477.8 h15" stroke="#d4d4d4" stroke-width="2.6"/>
<rect x="790.6" y="485" width="3.3" height="6.2" fill="#c9a2a2"/><rect x="795.1" y="485" width="3.3" height="6.2" fill="#c9a2a2"/>
<rect x="799.6" y="485" width="3.3" height="6.2" fill="#c9a2a2"/><rect x="804.1" y="485" width="3.3" height="6.2" fill="#c9a2a2"/>
<circle cx="797.5" cy="461" r="0.8" fill="#fff"/>
</g>
<g transform="translate(298.1,243.9) scale(0.953125,0.9714285714285713)"><use href="#abox" width="32" height="21"/><path d="M3.2,8.3 h5 M3.2,12.3 h5 M3.2,16.2 h5" stroke="#9a9a9a" stroke-width="0.7"/><rect x="6.5" y="6.8" width="18" height="11" fill="none" stroke="#e9aaaa" stroke-width="0.6"/><circle cx="17.4" cy="12.2" r="5.2" fill="#f2f2f2" stroke="#d0232a" stroke-width="1.5"/><text x="17.4" y="13.5" font-size="4.16" font-weight="700" fill="#d0232a" text-anchor="middle">ICS</text><path d="M21.14,15.94 L22.60,17.66" stroke="#e0a020" stroke-width="1.6"/><path d="M22.60,17.66 L27.02,24.16" stroke="#7a1a0a" stroke-width="1.9"/></g>
<g transform="translate(264,285.3) scale(0.821875,0.8809523809523809)"><use href="#abox" width="32" height="21"/><rect x="4.5" y="6.5" width="20" height="11.5" fill="none" stroke="#e9aaaa" stroke-width="0.6"/><circle cx="13.4" cy="12" r="5.7" fill="#f2f2f2" stroke="#d0232a" stroke-width="1.5"/><text x="13.4" y="13.3" font-size="4.56" font-weight="700" fill="#d0232a" text-anchor="middle">ICS</text><path d="M17.50,16.10 L19.10,17.98" stroke="#e0a020" stroke-width="1.6"/><path d="M19.10,17.98 L23.95,25.11" stroke="#7a1a0a" stroke-width="1.9"/></g>
<g transform="translate(798.5,193.6) scale(0.934375,0.9571428571428572)"><use href="#abox" width="32" height="21"/><rect x="9" y="6.2" width="10" height="9.5" fill="#fbfbfb" stroke="#e39a9a" stroke-width="0.7"/><circle cx="16" cy="11.5" r="3.6" fill="#f3dede" stroke="#d0232a" stroke-width="1.3"/><circle cx="16" cy="11.5" r="1.3" fill="#d0232a"/><path d="M6.5,14.5 V16.8 H23.5 V14.5" stroke="#d0232a" stroke-width="1" fill="none"/><path d="M19,14 L22,16.5" stroke="#7a1a0a" stroke-width="1"/><text x="14.5" y="19.6" font-size="2.8" font-weight="700" fill="#d0232a" text-anchor="middle">ICS</text></g>
<g transform="translate(835.1,193.6) scale(0.94375,0.9619047619047618)"><use href="#abox" width="32" height="21"/><rect x="8" y="6.3" width="16.5" height="11.8" fill="none" stroke="#e9aaaa" stroke-width="0.6"/><circle cx="15.5" cy="11.3" r="4.8" fill="#d42329"/><circle cx="15.5" cy="11.3" r="5.6" fill="none" stroke="#d42329" stroke-width="1.4" stroke-dasharray="1.4 1.1"/><circle cx="15.5" cy="11.3" r="2.6" fill="#f5f5f5"/><circle cx="15.5" cy="11.3" r="1.2" fill="#d42329"/><path d="M19,15 L23.5,19.5" stroke="#7a1a0a" stroke-width="1.5"/><circle cx="7" cy="14" r="1.6" fill="#333"/><path d="M4.8,19 Q7,15.5 9.2,19Z" fill="#333"/></g>
<g transform="translate(836,238.7) scale(0.9,0.8999999999999999)"><use href="#abox" width="32" height="21"/><rect x="5" y="6.5" width="18" height="12" fill="none" stroke="#e9aaaa" stroke-width="0.6"/><path d="M9,7.3 Q14,5.3 19,7.3 Q18.6,14.5 14,17.8 Q9.4,14.5 9,7.3Z" fill="#d8d8d8" stroke="#c82a2a" stroke-width="1.4"/><path d="M11,8.6 Q14,7.6 17,8.6 Q16.7,13.5 14,15.6 Q11.3,13.5 11,8.6Z" fill="#eeeeee"/><text x="14" y="12.8" font-size="2.6" font-weight="700" fill="#d0232a" text-anchor="middle">ICS</text><circle cx="21.6" cy="16.6" r="2" fill="#d0232a"/></g>
<use href="#gear" x="871.6" y="193" width="20.5" height="20"/>
<use href="#gear" x="871" y="237" width="20.5" height="20.6"/>
<g transform="translate(805.6,239) scale(0.8923076923076922,0.8651162790697675)">
<rect x="2.2" y="0.5" width="22.8" height="11.3" fill="#e8e8e8"/>
<rect x="12.8" y="0.5" width="12.2" height="11.3" fill="#dcdcdc"/>
<rect x="2.2" y="0.5" width="22.8" height="1.6" fill="#f7f7f7"/>
<line x1="12.8" y1="0.5" x2="12.8" y2="11.8" stroke="#c4c4c4" stroke-width="0.5"/>
<text x="7.4" y="9.3" font-size="4.4" font-weight="700" fill="#d0262c" text-anchor="middle">ICS</text>
<circle cx="16.3" cy="5.9" r="2.2" fill="#f5f5f5" stroke="#d0262c" stroke-width="0.9"/><path d="M17.8,7.5 L20.2,10.6" stroke="#8a2a1a" stroke-width="0.9"/>
<rect x="0" y="11.1" width="26" height="10.4" fill="url(#gBrick)"/>
<rect x="0" y="11.1" width="26" height="1.2" fill="#e8484c"/>
<path d="M8,11.1 v10.4 M15.8,11.1 v10.4" stroke="#9a1016" stroke-width="0.6"/>
<path d="M0,14.6 h26 M0,17.8 h26" stroke="#e85a5e" stroke-width="0.5"/>
</g>
<text x="439.2" y="34.80" font-size="10.4" fill="#1a1a1a" font-weight="700" text-anchor="middle">大坝自动监</text>
<text x="439.2" y="47.10" font-size="10.4" fill="#1a1a1a" font-weight="700" text-anchor="middle">测工作站</text>
<text x="500.1" y="34.80" font-size="10.4" fill="#1a1a1a" font-weight="700" text-anchor="middle">雷电监测系</text>
<text x="500.1" y="47.10" font-size="10.4" fill="#1a1a1a" font-weight="700" text-anchor="middle">统工作站</text>
<text x="561" y="34.80" font-size="10.4" fill="#1a1a1a" font-weight="700" text-anchor="middle">气象信息系</text>
<text x="561" y="47.10" font-size="10.4" fill="#1a1a1a" font-weight="700" text-anchor="middle">统工作站</text>
<text x="622.2" y="34.80" font-size="10.4" fill="#1a1a1a" font-weight="700" text-anchor="middle">管理信息系</text>
<text x="622.2" y="47.10" font-size="10.4" fill="#1a1a1a" font-weight="700" text-anchor="middle">统工作站</text>
<text x="683.2" y="34.80" font-size="10.4" fill="#1a1a1a" font-weight="700" text-anchor="middle">历史数据服</text>
<text x="683.2" y="47.10" font-size="10.4" fill="#1a1a1a" font-weight="700" text-anchor="middle">务器</text>
<text x="304" y="131.60" font-size="8.8" fill="#1a1a1a" font-weight="700" text-anchor="middle">电力专用正向</text>
<text x="304" y="142.80" font-size="8.8" fill="#1a1a1a" font-weight="700" text-anchor="middle">隔离装置</text>
<text x="409" y="131.60" font-size="8.8" fill="#1a1a1a" font-weight="700" text-anchor="middle">电力专用反向</text>
<text x="409" y="142.80" font-size="8.8" fill="#1a1a1a" font-weight="700" text-anchor="middle">隔离装置</text>
<text x="696.5" y="306.40" font-size="8.8" fill="#1a1a1a" font-weight="700" text-anchor="middle">电力专用正向</text>
<text x="696.5" y="317.60" font-size="8.8" fill="#1a1a1a" font-weight="700" text-anchor="middle">隔离装置</text>
<text x="803.7" y="306.40" font-size="8.8" fill="#1a1a1a" font-weight="700" text-anchor="middle">电力专用反向</text>
<text x="803.7" y="317.60" font-size="8.8" fill="#1a1a1a" font-weight="700" text-anchor="middle">隔离装置</text>
<text x="410.8" y="200.10" font-size="10.4" fill="#1a1a1a" font-weight="700" text-anchor="middle">网调通信</text>
<text x="410.8" y="212.30" font-size="10.4" fill="#1a1a1a" font-weight="700" text-anchor="middle">服务器</text>
<text x="470.7" y="200.10" font-size="10.4" fill="#1a1a1a" font-weight="700" text-anchor="middle">电能量采集</text>
<text x="470.7" y="212.30" font-size="10.4" fill="#1a1a1a" font-weight="700" text-anchor="middle">系统工作站</text>
<text x="535.1" y="200.10" font-size="10.4" fill="#1a1a1a" font-weight="700" text-anchor="middle">故障录波系</text>
<text x="535.1" y="212.30" font-size="10.4" fill="#1a1a1a" font-weight="700" text-anchor="middle">统工作站</text>
<text x="593.6" y="200.10" font-size="10.4" fill="#1a1a1a" font-weight="700" text-anchor="middle">水情测报</text>
<text x="593.6" y="212.30" font-size="10.4" fill="#1a1a1a" font-weight="700" text-anchor="middle">工作站</text>
<text x="654" y="206.00" font-size="10.4" fill="#1a1a1a" font-weight="700" text-anchor="middle">服务器</text>
<text x="719.4" y="206.00" font-size="10.4" fill="#1a1a1a" font-weight="700" text-anchor="middle">服务器</text>
<text x="231" y="244.20" font-size="8.8" fill="#1a1a1a" font-weight="700" text-anchor="middle">纵向加密</text>
<text x="231" y="254.60" font-size="8.8" fill="#1a1a1a" font-weight="700" text-anchor="middle">认证装置</text>
<text x="231" y="341.20" font-size="8.8" fill="#1a1a1a" font-weight="700" text-anchor="middle">纵向加密</text>
<text x="231" y="351.60" font-size="8.8" fill="#1a1a1a" font-weight="700" text-anchor="middle">认证装置</text>
<text x="177.6" y="216.40" font-size="9.3" fill="#1a1a1a" font-weight="400" text-anchor="middle" stroke="#1a1a1a" stroke-width="0.35">非</text>
<text x="177.6" y="227.05" font-size="9.3" fill="#1a1a1a" font-weight="400" text-anchor="middle" stroke="#1a1a1a" stroke-width="0.35">实</text>
<text x="177.6" y="237.70" font-size="9.3" fill="#1a1a1a" font-weight="400" text-anchor="middle" stroke="#1a1a1a" stroke-width="0.35">时</text>
<text x="177.6" y="248.35" font-size="9.3" fill="#1a1a1a" font-weight="400" text-anchor="middle" stroke="#1a1a1a" stroke-width="0.35">子</text>
<text x="177.6" y="259.00" font-size="9.3" fill="#1a1a1a" font-weight="400" text-anchor="middle" stroke="#1a1a1a" stroke-width="0.35">网</text>
<text x="177.6" y="290.60" font-size="9.3" fill="#1a1a1a" font-weight="400" text-anchor="middle" stroke="#1a1a1a" stroke-width="0.35">实</text>
<text x="177.6" y="301.25" font-size="9.3" fill="#1a1a1a" font-weight="400" text-anchor="middle" stroke="#1a1a1a" stroke-width="0.35">时</text>
<text x="177.6" y="311.90" font-size="9.3" fill="#1a1a1a" font-weight="400" text-anchor="middle" stroke="#1a1a1a" stroke-width="0.35">子</text>
<text x="177.6" y="322.55" font-size="9.3" fill="#1a1a1a" font-weight="400" text-anchor="middle" stroke="#1a1a1a" stroke-width="0.35">网</text>
<text x="154.1" y="244.30" font-size="9.3" fill="#1a1a1a" font-weight="400" text-anchor="middle" stroke="#1a1a1a" stroke-width="0.35">电</text>
<text x="154.1" y="255.00" font-size="9.3" fill="#1a1a1a" font-weight="400" text-anchor="middle" stroke="#1a1a1a" stroke-width="0.35">力</text>
<text x="154.1" y="265.70" font-size="9.3" fill="#1a1a1a" font-weight="400" text-anchor="middle" stroke="#1a1a1a" stroke-width="0.35">调</text>
<text x="154.1" y="276.40" font-size="9.3" fill="#1a1a1a" font-weight="400" text-anchor="middle" stroke="#1a1a1a" stroke-width="0.35">度</text>
<text x="154.1" y="287.10" font-size="9.3" fill="#1a1a1a" font-weight="400" text-anchor="middle" stroke="#1a1a1a" stroke-width="0.35">数</text>
<text x="154.1" y="297.80" font-size="9.3" fill="#1a1a1a" font-weight="400" text-anchor="middle" stroke="#1a1a1a" stroke-width="0.35">据</text>
<text x="154.1" y="308.50" font-size="9.3" fill="#1a1a1a" font-weight="400" text-anchor="middle" stroke="#1a1a1a" stroke-width="0.35">网</text>
<text x="390" y="380.20" font-size="10.4" fill="#1a1a1a" font-weight="700" text-anchor="middle">工作站</text>
<text x="529.5" y="380.20" font-size="10.4" fill="#1a1a1a" font-weight="700" text-anchor="middle">工作站</text>
<text x="654.8" y="380.20" font-size="10.4" fill="#1a1a1a" font-weight="700" text-anchor="middle">工作站</text>
<text x="345.3" y="492.20" font-size="10.4" fill="#1a1a1a" font-weight="700" text-anchor="middle">调速</text>
<text x="345.3" y="505.10" font-size="10.4" fill="#1a1a1a" font-weight="700" text-anchor="middle">装置</text>
<text x="374.2" y="492.20" font-size="10.4" fill="#1a1a1a" font-weight="700" text-anchor="middle">励磁</text>
<text x="374.2" y="505.10" font-size="10.4" fill="#1a1a1a" font-weight="700" text-anchor="middle">装置</text>
<text x="402.3" y="492.20" font-size="10.4" fill="#1a1a1a" font-weight="700" text-anchor="middle">机组</text>
<text x="402.3" y="505.10" font-size="10.4" fill="#1a1a1a" font-weight="700" text-anchor="middle">LCU</text>
<text x="428.8" y="492.20" font-size="10.4" fill="#1a1a1a" font-weight="700" text-anchor="middle">机组</text>
<text x="428.8" y="505.10" font-size="10.4" fill="#1a1a1a" font-weight="700" text-anchor="middle">LCU</text>
<text x="517.7" y="492.20" font-size="10.4" fill="#1a1a1a" font-weight="700" text-anchor="middle">公用</text>
<text x="517.7" y="505.10" font-size="10.4" fill="#1a1a1a" font-weight="700" text-anchor="middle">LCU</text>
<text x="544.5" y="492.20" font-size="10.4" fill="#1a1a1a" font-weight="700" text-anchor="middle">公用</text>
<text x="544.5" y="505.10" font-size="10.4" fill="#1a1a1a" font-weight="700" text-anchor="middle">LCU</text>
<text x="636.8" y="492.20" font-size="10.4" fill="#1a1a1a" font-weight="700" text-anchor="middle">开关站</text>
<text x="636.8" y="505.10" font-size="10.4" fill="#1a1a1a" font-weight="700" text-anchor="middle">LCU</text>
<text x="671.5" y="492.20" font-size="10.4" fill="#1a1a1a" font-weight="700" text-anchor="middle">开关站</text>
<text x="671.5" y="505.10" font-size="10.4" fill="#1a1a1a" font-weight="700" text-anchor="middle">LCU</text>
<text x="793" y="361.80" font-size="10.3" fill="#1a1a1a" font-weight="700" text-anchor="middle">通信前置机</text>
<text x="771" y="418.30" font-size="10.4" fill="#1a1a1a" font-weight="700" text-anchor="middle">公用通信网络</text>
<text x="749.6" y="509.80" font-size="10.4" fill="#1a1a1a" font-weight="700" text-anchor="middle">智能终端</text>
<text x="801" y="509.80" font-size="10.4" fill="#1a1a1a" font-weight="700" text-anchor="middle">电能表</text>
<text x="222" y="563.5" font-size="14.5" fill="#c00000" font-weight="700" text-anchor="middle">图</text>
<text x="222" y="582.4" font-size="14.5" fill="#c00000" font-weight="700" text-anchor="middle">例</text>
<text x="267.2" y="583.30" font-size="8.9" fill="#c00000" font-weight="700" text-anchor="middle">工业防火墙</text>
<text x="328.4" y="583.30" font-size="8.9" fill="#c00000" font-weight="700" text-anchor="middle">工业入侵检测</text>
<text x="397.3" y="583.30" font-size="8.9" fill="#c00000" font-weight="700" text-anchor="middle">工业监测审计</text>
<text x="466.2" y="583.30" font-size="8.9" fill="#c00000" font-weight="700" text-anchor="middle">工业运维审计</text>
<text x="530.8" y="583.30" font-size="8.9" fill="#c00000" font-weight="700" text-anchor="middle">工业日志审计</text>
<text x="595.2" y="583.30" font-size="8.9" fill="#c00000" font-weight="700" text-anchor="middle">工业漏洞扫描</text>
<text x="659.4" y="583.30" font-size="8.9" fill="#c00000" font-weight="700" text-anchor="middle">工业主机卫士</text>
<text x="659.4" y="594.10" font-size="8.9" fill="#c00000" font-weight="700" text-anchor="middle">服务端</text>
<text x="723.6" y="583.30" font-size="8.9" fill="#c00000" font-weight="700" text-anchor="middle">工业主机卫士</text>
<text x="723.6" y="594.10" font-size="8.9" fill="#c00000" font-weight="700" text-anchor="middle">客户端</text>
<text x="787.5" y="583.30" font-size="8.9" fill="#c00000" font-weight="700" text-anchor="middle">工业集中管理</text>
<text x="851.5" y="583.30" font-size="8.9" fill="#c00000" font-weight="700" text-anchor="middle">工业态势感知</text>
<g>
<rect x="252.2" y="545.9" width="31.2" height="2" fill="#cfcfcf"/>
<rect x="252.2" y="547.7" width="31.2" height="6" fill="#d9272d"/>
<rect x="252.2" y="553.7" width="31.2" height="6.2" fill="#f0f0f0"/>
<rect x="252.2" y="559.9" width="31.2" height="6.6" fill="#d9272d"/>
<path d="M262.6,547.7 v6 M273,547.7 v6 M257.4,559.9 v6.6 M267.8,559.9 v6.6 M278.2,559.9 v6.6 M252.2,550.7 h31.2 M252.2,563.2 h31.2" stroke="#f0a0a0" stroke-width="0.6"/>
<text x="267.8" y="558.7" font-size="5.4" font-weight="700" fill="#c82828" text-anchor="middle">ICS</text>
</g>
<g transform="translate(312,545.9) scale(0.965625,0.9904761904761905)"><use href="#abox" width="32" height="21"/><path d="M3.2,8.3 h5 M3.2,12.3 h5 M3.2,16.2 h5" stroke="#9a9a9a" stroke-width="0.7"/><circle cx="17.8" cy="12" r="6.4" fill="#f2f2f2" stroke="#d0232a" stroke-width="1.5"/><text x="17.8" y="13.3" font-size="5.12" font-weight="700" fill="#d0232a" text-anchor="middle">ICS</text><path d="M22.41,16.61 L24.20,18.72" stroke="#e0a020" stroke-width="1.6"/><path d="M24.20,18.72 L29.64,26.72" stroke="#7a1a0a" stroke-width="1.9"/></g>
<g transform="translate(381,547) scale(0.9875,1.0523809523809524)"><use href="#abox" width="32" height="21"/><rect x="4.5" y="6.5" width="20" height="11.5" fill="none" stroke="#e9aaaa" stroke-width="0.6"/><circle cx="13.3" cy="12.3" r="6.6" fill="#f2f2f2" stroke="#d0232a" stroke-width="1.5"/><text x="13.3" y="13.600000000000001" font-size="5.28" font-weight="700" fill="#d0232a" text-anchor="middle">ICS</text><path d="M18.05,17.05 L19.90,19.23" stroke="#e0a020" stroke-width="1.6"/><path d="M19.90,19.23 L25.51,27.48" stroke="#7a1a0a" stroke-width="1.9"/></g>
<g transform="translate(449,546) scale(1.03125,1.0476190476190477)"><use href="#abox" width="32" height="21"/><rect x="8" y="6.3" width="16.5" height="11.8" fill="none" stroke="#e9aaaa" stroke-width="0.6"/><circle cx="15.5" cy="11.3" r="4.8" fill="#d42329"/><circle cx="15.5" cy="11.3" r="5.6" fill="none" stroke="#d42329" stroke-width="1.4" stroke-dasharray="1.4 1.1"/><circle cx="15.5" cy="11.3" r="2.6" fill="#f5f5f5"/><circle cx="15.5" cy="11.3" r="1.2" fill="#d42329"/><path d="M19,15 L23.5,19.5" stroke="#7a1a0a" stroke-width="1.5"/><circle cx="7" cy="14" r="1.6" fill="#333"/><path d="M4.8,19 Q7,15.5 9.2,19Z" fill="#333"/></g>
<g transform="translate(514.6,546) scale(1.0,1.0476190476190477)"><use href="#abox" width="32" height="21"/><rect x="9" y="6.2" width="10" height="9.5" fill="#fbfbfb" stroke="#e39a9a" stroke-width="0.7"/><circle cx="16" cy="11.5" r="3.6" fill="#f3dede" stroke="#d0232a" stroke-width="1.3"/><circle cx="16" cy="11.5" r="1.3" fill="#d0232a"/><path d="M6.5,14.5 V16.8 H23.5 V14.5" stroke="#d0232a" stroke-width="1" fill="none"/><path d="M19,14 L22,16.5" stroke="#7a1a0a" stroke-width="1"/><text x="14.5" y="19.6" font-size="2.8" font-weight="700" fill="#d0232a" text-anchor="middle">ICS</text></g>
<g transform="translate(582,545.6) scale(1.0153846153846153,0.958139534883721)">
<rect x="2.2" y="0.5" width="22.8" height="11.3" fill="#e8e8e8"/>
<rect x="12.8" y="0.5" width="12.2" height="11.3" fill="#dcdcdc"/>
<rect x="2.2" y="0.5" width="22.8" height="1.6" fill="#f7f7f7"/>
<line x1="12.8" y1="0.5" x2="12.8" y2="11.8" stroke="#c4c4c4" stroke-width="0.5"/>
<text x="7.4" y="9.3" font-size="4.4" font-weight="700" fill="#d0262c" text-anchor="middle">ICS</text>
<circle cx="16.3" cy="5.9" r="2.2" fill="#f5f5f5" stroke="#d0262c" stroke-width="0.9"/><path d="M17.8,7.5 L20.2,10.6" stroke="#8a2a1a" stroke-width="0.9"/>
<rect x="0" y="11.1" width="26" height="10.4" fill="url(#gBrick)"/>
<rect x="0" y="11.1" width="26" height="1.2" fill="#e8484c"/>
<path d="M8,11.1 v10.4 M15.8,11.1 v10.4" stroke="#9a1016" stroke-width="0.6"/>
<path d="M0,14.6 h26 M0,17.8 h26" stroke="#e85a5e" stroke-width="0.5"/>
</g>
<g transform="translate(642.5,546) scale(1.025,1.0714285714285714)"><use href="#abox" width="32" height="21"/><rect x="5" y="6.5" width="18" height="12" fill="none" stroke="#e9aaaa" stroke-width="0.6"/><path d="M9,7.3 Q14,5.3 19,7.3 Q18.6,14.5 14,17.8 Q9.4,14.5 9,7.3Z" fill="#d8d8d8" stroke="#c82a2a" stroke-width="1.4"/><path d="M11,8.6 Q14,7.6 17,8.6 Q16.7,13.5 14,15.6 Q11.3,13.5 11,8.6Z" fill="#eeeeee"/><text x="14" y="12.8" font-size="2.6" font-weight="700" fill="#d0232a" text-anchor="middle">ICS</text><circle cx="21.6" cy="16.6" r="2" fill="#d0232a"/></g>
<g><rect x="711.4" y="545.2" width="24.5" height="23.5" rx="2" fill="url(#gGearBg)" stroke="#cc2a2a" stroke-width="1.1"/>
<path d="M716.3,550.6 Q723.6,547.4 730.9,550.6 Q730.2,560.8 723.6,564.8 Q717,560.8 716.3,550.6Z" fill="#e9e9e9" stroke="#c82a2a" stroke-width="1.6"/>
<path d="M718.8,552 Q723.6,550.2 728.4,552 Q727.8,559 723.6,561.8 Q719.4,559 718.8,552Z" fill="#d6d6d6"/>
<circle cx="723.6" cy="556" r="2.8" fill="#e0e0e0" stroke="#c8a0a0" stroke-width="0.4"/>
<text x="723.6" y="557.1" font-size="3" font-weight="700" fill="#c82a2a" text-anchor="middle">ICS</text></g>
<use href="#gear" x="775.3" y="544.9" width="24.6" height="24"/>
<use href="#gear" x="839.7" y="545.3" width="24.6" height="24.5"/>
</svg></body></html>
